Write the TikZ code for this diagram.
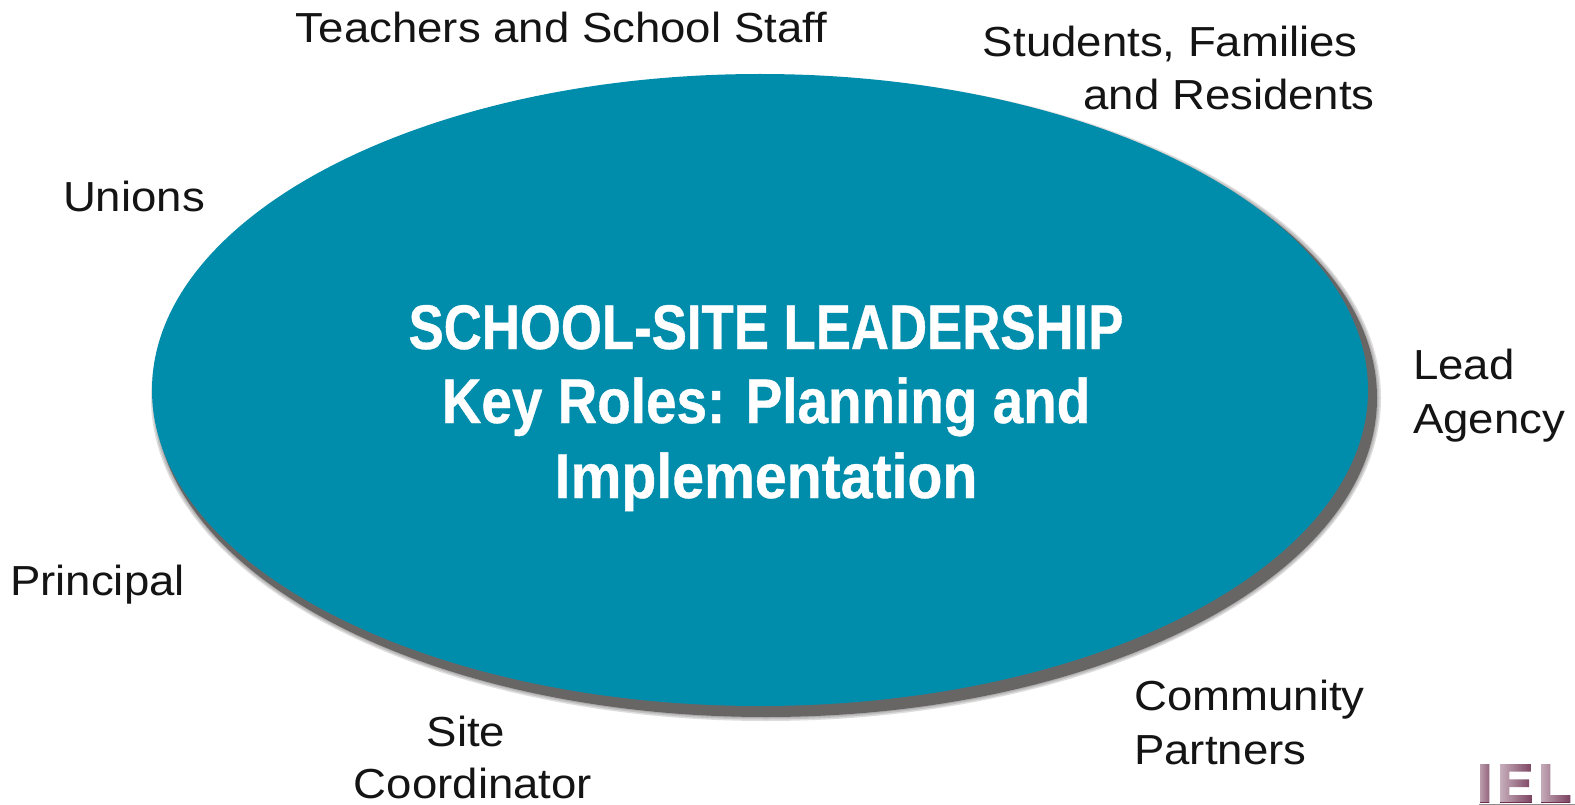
\documentclass[tikz,border=0pt]{standalone}
\usepackage{fontspec}
\setmainfont{Liberation Sans}[FakeStretch=1.085]
\newfontfamily\titlea[FakeStretch=0.837,FakeBold=0.6]{Liberation Sans Bold}
\newfontfamily\titleb[FakeStretch=0.871,FakeBold=0.6]{Liberation Sans Bold}
\newfontfamily\titlec[FakeStretch=0.908,FakeBold=0.6]{Liberation Sans Bold}
\newfontfamily\logofont[FakeBold=3]{Liberation Sans Bold}
\usetikzlibrary{shapes.geometric,fadings}
\definecolor{teal1}{HTML}{008CAB}
\definecolor{shadow1}{HTML}{686565}
\definecolor{logo1}{HTML}{6E2F50}
\tikzset{
  x=1pt,y=-1pt,
  role/.style={font=\fontsize{42}{42}\selectfont,text=black!92,inner sep=0pt,anchor=base},
  titleline/.style={text=white,inner sep=0pt,anchor=base},
  logoletter/.style={font=\logofont\fontsize{54}{54}\selectfont,text=logo1,inner sep=0pt,anchor=base west},
  disc/.style={ellipse,inner sep=0pt,minimum width=1216pt,minimum height=632pt},
  shadedisc/.style={disc,minimum width=1222pt,minimum height=638pt},
}
\tikzfading[name=lightleft,left color=transparent!35,right color=transparent!100]
\begin{document}
\begin{tikzpicture}
\useasboundingbox (0,0) rectangle (1575,805);
\fill[white] (0,0) rectangle (1575,805);
% soft edge of the shadow
\foreach \g in {8,5,2}{
  \node[disc,minimum width=1222pt+\g pt,minimum height=638pt+\g pt,fill=shadow1,fill opacity=0.22] at (766,398) {};
}
\node[shadedisc,fill=shadow1] (shade) at (766,398) {};
\node[disc,fill=teal1] (oval) at (760,390) {};
\node[titleline,font=\titlea\fontsize{63}{63}\selectfont] (t1) at (766,349) {SCHOOL-SITE LEADERSHIP};
\node[titleline,font=\titleb\fontsize{63}{63}\selectfont] (t2) at (766,423) {Key Roles: Planning and};
\node[titleline,font=\titlec\fontsize{63}{63}\selectfont] (t3) at (766,498) {Implementation};
\node[role] (teachers) at (561.5,43) {Teachers and School Staff};
\node[role,anchor=base east] (students) at (1358,57) {Students, Families};
\node[role,anchor=base east] (residents) at (1375,110) {and Residents};
\node[role] (unions) at (134,212) {Unions};
\node[role,anchor=base west] (lead) at (1413,379) {Lead};
\node[role,anchor=base west] (agency) at (1413,433) {Agency};
\node[role] (principal) at (97.5,595) {Principal};
\node[role,anchor=base west] (community) at (1134,710) {Community};
\node[role,anchor=base west] (partners) at (1134,764) {Partners};
\node[role] (site) at (466,746) {Site};
\node[role] (coord) at (473,798.5) {Coordinator};
% logo
\node[logoletter] (logoi) at (1477,802) {I};
\node[logoletter] (logoe) at (1497,802) {E};
\node[logoletter] (logol) at (1538,802) {L};
\fill[white,path fading=lightleft] (1476,758) rectangle (1498,802);
\fill[white,path fading=lightleft] (1498,758) rectangle (1538,802);
\fill[white,path fading=lightleft] (1538,758) rectangle (1575,802);
\fill[black!45] (1479,803.5) rectangle (1575,805);
\end{tikzpicture}
\end{document}
